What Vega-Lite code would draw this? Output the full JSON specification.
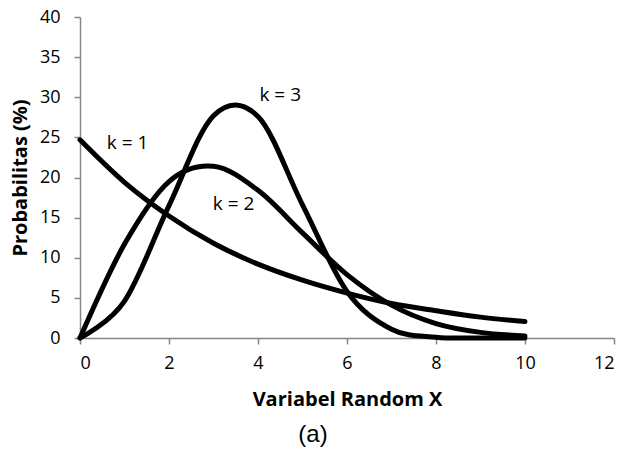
{
  "$schema": "https://vega.github.io/schema/vega-lite/v6.json",
  "width": 534,
  "height": 321,
  "autosize": "none",
  "padding": {"left": 80, "top": 17, "right": 11, "bottom": 111},
  "background": "white",
  "config": {"view": {"stroke": null}, "font": "Open Sans"},
  "title": {"text": "(a)", "orient": "bottom", "font": "Liberation Sans", "fontSize": 24, "fontWeight": "normal", "color": "black", "offset": 14, "dx": -34, "anchor": "middle"},
  "datasets": {
    "curves": [
      {"x": 0, "y": 24.7, "k": "k1"}, {"x": 1, "y": 19.4, "k": "k1"}, {"x": 2, "y": 15.2, "k": "k1"}, {"x": 3, "y": 11.8, "k": "k1"}, {"x": 4, "y": 9.2, "k": "k1"}, {"x": 5, "y": 7.2, "k": "k1"}, {"x": 6, "y": 5.6, "k": "k1"}, {"x": 7, "y": 4.3, "k": "k1"}, {"x": 8, "y": 3.4, "k": "k1"}, {"x": 9, "y": 2.6, "k": "k1"}, {"x": 10, "y": 2.05, "k": "k1"},
      {"x": 0, "y": 0, "k": "k2"}, {"x": 1, "y": 11.7, "k": "k2"}, {"x": 2, "y": 19.5, "k": "k2"}, {"x": 3, "y": 21.4, "k": "k2"}, {"x": 4, "y": 18.4, "k": "k2"}, {"x": 5, "y": 13.1, "k": "k2"}, {"x": 6, "y": 7.9, "k": "k2"}, {"x": 7, "y": 4.1, "k": "k2"}, {"x": 8, "y": 1.8, "k": "k2"}, {"x": 9, "y": 0.7, "k": "k2"}, {"x": 10, "y": 0.25, "k": "k2"},
      {"x": 0, "y": 0, "k": "k3"}, {"x": 1, "y": 4.6, "k": "k3"}, {"x": 2, "y": 16.5, "k": "k3"}, {"x": 3, "y": 27.7, "k": "k3"}, {"x": 4, "y": 27.6, "k": "k3"}, {"x": 5, "y": 16.6, "k": "k3"}, {"x": 6, "y": 5.8, "k": "k3"}, {"x": 7, "y": 1.1, "k": "k3"}, {"x": 8, "y": 0.1, "k": "k3"}, {"x": 9, "y": 0.0, "k": "k3"}, {"x": 10, "y": 0.0, "k": "k3"}
    ],
    "labels": [
      {"x": 1.07, "y": 24.3, "text": "k = 1"},
      {"x": 3.45, "y": 16.7, "text": "k = 2"},
      {"x": 4.5, "y": 30.3, "text": "k = 3"}
    ]
  },
  "layer": [
    {
      "data": {"name": "curves"},
      "mark": {"type": "line", "color": "black", "strokeWidth": 5, "strokeCap": "round", "strokeJoin": "round", "interpolate": "cardinal", "clip": false},
      "encoding": {
        "x": {"field": "x", "type": "quantitative", "scale": {"domain": [0, 12], "nice": false, "zero": false},
          "axis": {"values": [0, 2, 4, 6, 8, 10, 12], "grid": false, "domainColor": "#868686", "domainWidth": 1.5, "tickColor": "#868686", "tickWidth": 1.5, "tickSize": 6, "labelFontSize": 18, "labelColor": "black", "labelPadding": 10, "title": "Variabel Random X", "titleFontSize": 20, "titleFontWeight": "bold", "titleColor": "black", "titlePadding": 17}},
        "y": {"field": "y", "type": "quantitative", "scale": {"domain": [0, 40], "nice": false, "zero": false},
          "axis": {"values": [0, 5, 10, 15, 20, 25, 30, 35, 40], "grid": false, "domainColor": "#868686", "domainWidth": 1.5, "tickColor": "#868686", "tickWidth": 1.5, "tickSize": 6, "labelFontSize": 18, "labelColor": "black", "labelPadding": 14, "title": "Probabilitas (%)", "titleFontSize": 20, "titleFontWeight": "bold", "titleColor": "black", "titlePadding": 9}},
        "detail": {"field": "k", "type": "nominal"}
      }
    },
    {
      "data": {"name": "labels"},
      "mark": {"type": "text", "fontSize": 19, "color": "black", "align": "center", "baseline": "middle"},
      "encoding": {
        "x": {"field": "x", "type": "quantitative"},
        "y": {"field": "y", "type": "quantitative"},
        "text": {"field": "text", "type": "nominal"}
      }
    }
  ]
}
